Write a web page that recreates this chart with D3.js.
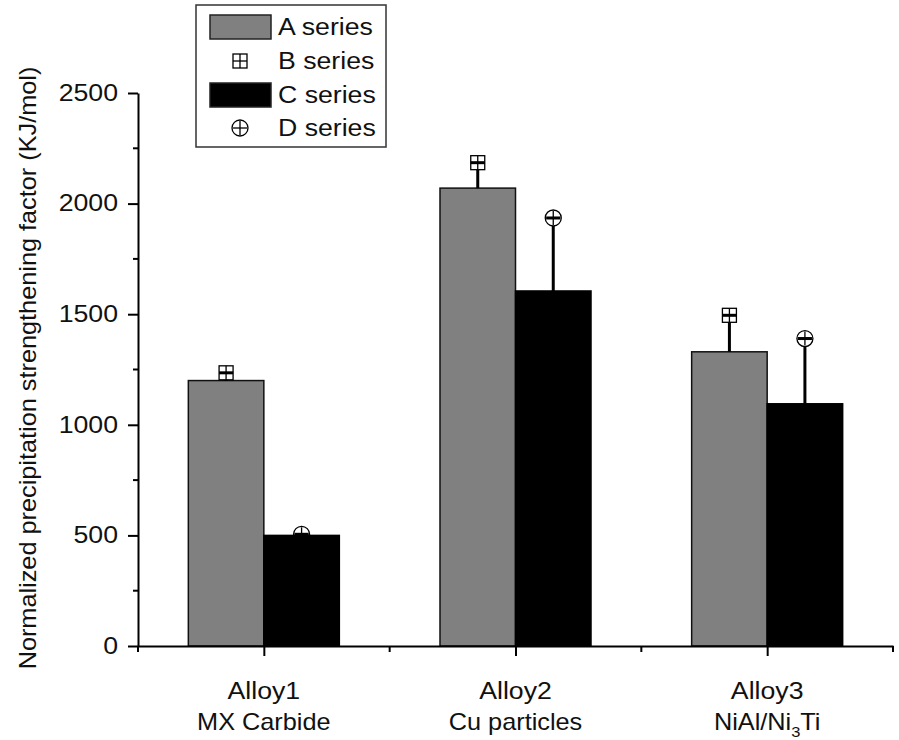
<!DOCTYPE html>
<html>
<head>
<meta charset="utf-8">
<script src="https://cdn.jsdelivr.net/npm/d3@7"></script>
<style>
  html, body { margin: 0; padding: 0; background: #fff; }
  svg { display: block; font-family: "Liberation Sans", Arial, sans-serif; }
</style>
</head>
<body>
<svg id="chart" width="899" height="740"></svg>
<script>
// Alloy categories (two-line labels, subscript marked with _)
const categories = [
  ["Alloy1", "MX Carbide"],
  ["Alloy2", "Cu particles"],
  ["Alloy3", "NiAl/Ni_3Ti"]
];
// Bar heights
const seriesA = [1200, 2070, 1330];
const seriesC = [500, 1605, 1095];
// Upper error-bar ends with their markers
const seriesB = [1235, 2185, 1495];
const seriesD = [505, 1935, 1390];
const yTicks = [0, 500, 1000, 1500, 2000, 2500];
const legendLabels = ["A series", "B series", "C series", "D series"];
const yTitle = "Normalized precipitation strengthening factor (KJ/mol)";

const FS = 23;      // text size
const WIDE = 1.16;  // horizontal glyph stretch of the lettering

const svg = d3.select("#chart");
const x = d3.scaleLinear().domain([0.5, 3.5]).range([138, 893]);
const y = d3.scaleLinear().domain([0, 2500]).range([646, 93]);
const barW = 0.3; // in category units

const plot = svg.append("g");

function drawMarker(g, cx, cy, shape) {
  const r = 7;
  if (shape === "square") {
    g.append("rect").attr("x", cx - r).attr("y", cy - r)
      .attr("width", 2 * r).attr("height", 2 * r)
      .attr("fill", "#fff").attr("stroke", "#000").attr("stroke-width", 1.3);
  } else {
    g.append("circle").attr("cx", cx).attr("cy", cy).attr("r", r + 1)
      .attr("fill", "#fff").attr("stroke", "#000").attr("stroke-width", 1.3);
  }
  g.append("line").attr("x1", cx - r).attr("x2", cx + r).attr("y1", cy).attr("y2", cy)
    .attr("stroke", "#000").attr("stroke-width", 1.3);
  g.append("line").attr("x1", cx).attr("x2", cx).attr("y1", cy - r).attr("y2", cy + r)
    .attr("stroke", "#000").attr("stroke-width", 1.3);
}

// Error bars + markers for a series
function errorMarks(vals, base, offset, shape) {
  const g = plot.append("g");
  vals.forEach((v, i) => {
    const cx = x(i + 1 + offset);
    const cy = y(v);
    g.append("line").attr("x1", cx).attr("x2", cx)
      .attr("y1", y(base[i])).attr("y2", cy)
      .attr("stroke", "#000").attr("stroke-width", 3);
    drawMarker(g, cx, cy, shape);
    g.append("line").attr("x1", cx - 7).attr("x2", cx + 7)
      .attr("y1", cy).attr("y2", cy)
      .attr("stroke", "#000").attr("stroke-width", 3);
  });
}

// Gray bars with their markers
plot.append("g").selectAll("rect").data(seriesA).join("rect")
  .attr("x", (d, i) => x(i + 1 - barW))
  .attr("width", x(barW) - x(0))
  .attr("y", d => y(d))
  .attr("height", d => y(0) - y(d))
  .attr("fill", "#808080").attr("stroke", "#111").attr("stroke-width", 1.5);
errorMarks(seriesB, seriesA, -barW / 2, "square");

// Black bar markers sit under the bars
errorMarks(seriesD, seriesC, barW / 2, "circle");
plot.append("g").selectAll("rect").data(seriesC).join("rect")
  .attr("x", (d, i) => x(i + 1))
  .attr("width", x(barW) - x(0))
  .attr("y", d => y(d))
  .attr("height", d => y(0) - y(d))
  .attr("fill", "#000").attr("stroke", "#000").attr("stroke-width", 1.5);

// Y axis
const yAxis = svg.append("g").attr("transform", `translate(${x(0.5)},0)`)
  .call(d3.axisLeft(y).tickValues(yTicks).tickFormat(d3.format("d"))
    .tickSize(10).tickPadding(8).tickSizeOuter(0));
yAxis.select(".domain").attr("stroke-width", 2);
yAxis.selectAll(".tick line").attr("stroke-width", 2);
yAxis.selectAll(".tick text")
  .attr("font-size", FS).attr("fill", "#111")
  .attr("x", null)
  .attr("transform", `translate(-20,0) scale(${WIDE},1)`);
// minor y ticks
svg.append("g").selectAll("line").data(d3.range(250, 2500, 500)).join("line")
  .attr("x1", x(0.5) - 5).attr("x2", x(0.5))
  .attr("y1", d => y(d)).attr("y2", d => y(d))
  .attr("stroke", "#000").attr("stroke-width", 2);

// X axis
const xAxis = svg.append("g").attr("transform", `translate(0,${y(0)})`)
  .call(d3.axisBottom(x).tickValues([1, 2, 3]).tickSize(10).tickSizeOuter(0).tickFormat(""));
xAxis.select(".domain").attr("stroke-width", 2);
xAxis.selectAll(".tick line").attr("stroke-width", 2);
svg.append("g").selectAll("line").data([0.5, 1.5, 2.5, 3.5]).join("line")
  .attr("x1", d => x(d)).attr("x2", d => x(d))
  .attr("y1", y(0)).attr("y2", y(0) + 6)
  .attr("stroke", "#000").attr("stroke-width", 2);

// Category labels
const catG = svg.append("g").attr("font-size", FS).attr("fill", "#111").attr("text-anchor", "middle");
categories.forEach((lines, i) => {
  lines.forEach((ln, j) => {
    const t = catG.append("text")
      .attr("transform", `translate(${x(i + 1)},${699 + j * 31}) scale(${j === 0 ? WIDE : 1.1},1)`);
    const parts = ln.split("_");
    if (parts.length === 1) {
      t.text(ln);
    } else {
      t.append("tspan").text(parts[0]);
      t.append("tspan").text(parts[1][0]).attr("font-size", 15).attr("dy", 7);
      t.append("tspan").text(parts[1].slice(1)).attr("dy", -7);
    }
  });
});

// Y title
svg.append("text")
  .attr("transform", `translate(36,368) rotate(-90) scale(1.1,1)`)
  .attr("text-anchor", "middle").attr("font-size", FS).attr("fill", "#111")
  .text(yTitle);

// Legend
const lg = svg.append("g");
lg.append("rect").attr("x", 196).attr("y", 5).attr("width", 190).attr("height", 142)
  .attr("fill", "#fff").attr("stroke", "#333").attr("stroke-width", 1.5);
const rowY = [27, 61, 95, 128];
legendLabels.forEach((lab, i) => {
  const cy = rowY[i];
  if (i === 0 || i === 2) {
    lg.append("rect").attr("x", 210).attr("y", cy - 12).attr("width", 61).attr("height", 24)
      .attr("fill", i === 0 ? "#808080" : "#000").attr("stroke", "#222").attr("stroke-width", 1.5);
  } else {
    drawMarker(lg, 240, cy, i === 1 ? "square" : "circle");
  }
  lg.append("text")
    .attr("transform", `translate(278,${cy + 7.5}) scale(${WIDE},1)`)
    .attr("font-size", FS).attr("fill", "#111").text(lab);
});
</script>
</body>
</html>
